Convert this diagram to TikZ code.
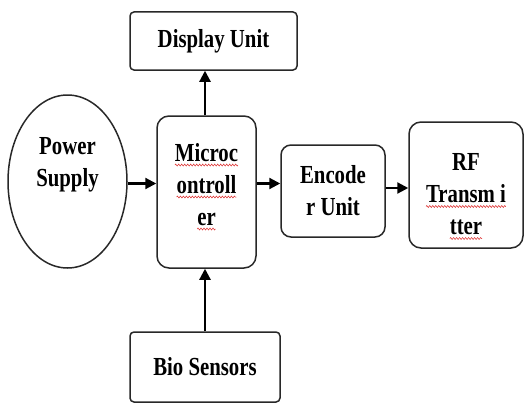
\documentclass[tikz,border=0pt]{standalone}
\usepackage{fontspec}
\setmainfont{Liberation Serif}[FakeStretch=0.8]
\usepackage{tikz}
\usetikzlibrary{arrows.meta,positioning,calc,shapes.geometric,decorations.pathmorphing}
\definecolor{LineGray}{RGB}{40,40,40}
\definecolor{SpellRed}{RGB}{220,40,40}
\newcommand{\spellwave}[1]{\tikz[baseline=(w.base)]{\node[draw=none, inner sep=0pt, outer sep=0pt, rounded corners=0pt, minimum size=0pt] (w) {#1};
  \draw[SpellRed, line width=0.5pt, rounded corners=0pt, decorate, decoration={zigzag, amplitude=1pt, segment length=3pt}] ([yshift=-4pt]w.base west) -- ([yshift=-4pt]w.base east);}}

\begin{document}
\begin{tikzpicture}[x=1pt, y=-1pt,
    blk/.style={draw=LineGray, line width=1.5pt, align=center, inner sep=2pt,
      font=\fontsize{26}{32}\selectfont\bfseries},
    arr/.style={-{Triangle[length=11pt,width=11pt]}, line width=2.2pt, black}
  ]
    \useasboundingbox (0,0) rectangle (526,404);
    % Blocks
    \node[blk, rounded corners=4pt, minimum width=167pt, minimum height=58pt] (disp) at (213.5,41) {Display Unit};
    \node[blk, ellipse, minimum width=119pt, minimum height=173pt] (power) at (67.5,181.5) {Power\\Supply\\[8pt]~};
    \node[blk, rounded corners=12pt, minimum width=99pt, minimum height=152pt] (micro) at (206.5,192) {\spellwave{Microc}\\\spellwave{ontroll}\\\spellwave{er}\\[-16pt]~};
    \node[blk, rounded corners=10pt, minimum width=104pt, minimum height=92pt] (enc) at (333,191) {Encode\\r Unit};
    \node[blk, rounded corners=12pt, minimum width=114pt, minimum height=126pt] (rf) at (466,185) {RF\\\spellwave{Transm i}\\\spellwave{tter}\\[-50pt]~};
    \node[blk, rounded corners=4pt, minimum width=150pt, minimum height=70pt] (bio) at (205,367) {Bio Sensors};

    % Connections
    \draw[arr] ($(power.east)+(0,2)$) coordinate (pwr) -- (pwr -| micro.west);
    \draw[arr] (micro.east |- pwr) -- (enc.west |- pwr);
    \draw[arr] ($(enc.east)+(0,-3)$) coordinate (encout) -- (encout -| rf.west);
    \draw[arr] ($(micro.north)+(-1.5,0)$) coordinate (mtop) -- (mtop |- disp.south);
    \draw[arr] (bio.north -| mtop) -- (mtop |- micro.south);
  \end{tikzpicture}
\end{document}
